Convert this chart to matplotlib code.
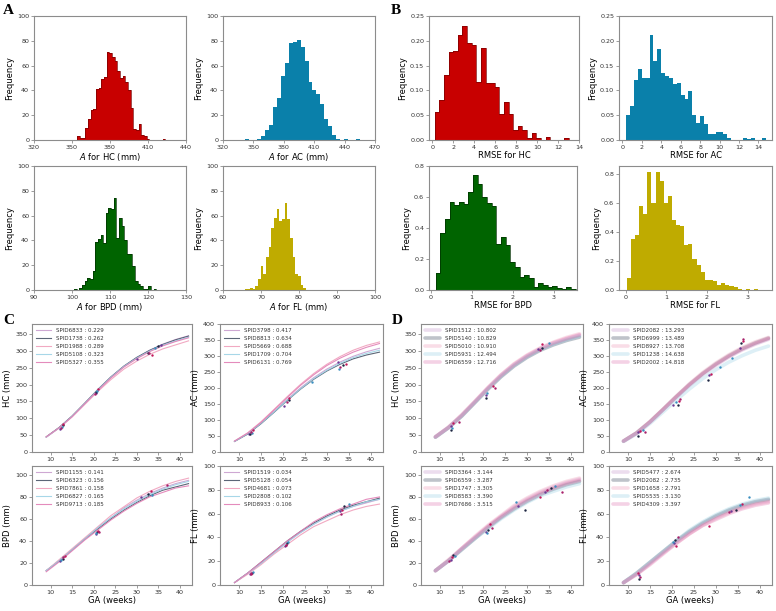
import numpy as np
import matplotlib
matplotlib.use("Agg")
import matplotlib.pyplot as plt

plt.rcParams['font.family'] = ['DejaVu Sans']

W, H = 776, 611

# ---------------- Panel A: histograms of parameter A (counts) ----------------
A_hc_start, A_hc_width = 354.3, 2.1
A_hc_counts = [3, 2, 2, 10, 17, 24, 25, 41, 42, 49, 51, 71, 70, 67, 64, 56, 50, 52, 47, 40,
               26, 9, 8, 13, 4, 3, 1, 0, 0, 0, 0, 0, 1]
A_ac_start, A_ac_width = 341.5, 3.93
A_ac_counts = [1, 0, 0, 1, 3, 8, 12, 27, 34, 52, 62, 78, 79, 81, 75, 64, 47, 40, 37, 29,
               17, 11, 4, 1, 0, 1, 0, 0, 1]
A_bpd_start, A_bpd_width = 100.5, 0.70
A_bpd_counts = [1, 0, 2, 4, 7, 10, 9, 15, 39, 41, 44, 38, 62, 66, 65, 74, 42, 58, 52, 40,
                29, 29, 19, 7, 5, 3, 1, 1, 3, 0, 1]
A_fl_start, A_fl_width = 65.7, 0.70
A_fl_counts = [1, 1, 2, 1, 3, 9, 19, 13, 27, 35, 50, 58, 65, 56, 57, 70, 57, 42, 27, 13,
               11, 4, 2]

# ---------------- Panel B: histograms of RMSE (density) ----------------
B_hc_start, B_hc_width = 0.25, 0.44
B_hc_dens = [0.056, 0.080, 0.131, 0.177, 0.180, 0.211, 0.230, 0.195, 0.192, 0.117, 0.186,
             0.115, 0.115, 0.106, 0.052, 0.077, 0.052, 0.020, 0.028, 0.020, 0.005, 0.014,
             0.005, 0.0, 0.007, 0.0, 0.0, 0.0, 0.005]
B_ac_start, B_ac_width = 0.4, 0.4
B_ac_dens = [0.050, 0.068, 0.120, 0.143, 0.125, 0.125, 0.212, 0.160, 0.183, 0.135, 0.130,
             0.125, 0.113, 0.115, 0.090, 0.082, 0.098, 0.050, 0.034, 0.048, 0.033, 0.013,
             0.013, 0.016, 0.016, 0.013, 0.005, 0.0, 0.0, 0.0, 0.004, 0.003, 0.004, 0.0,
             0.0, 0.005]
B_bpd_start, B_bpd_width = 0.12, 0.114
B_bpd_dens = [0.107, 0.365, 0.455, 0.570, 0.548, 0.570, 0.558, 0.630, 0.745, 0.687, 0.600,
              0.562, 0.540, 0.300, 0.340, 0.290, 0.180, 0.150, 0.085, 0.100, 0.075, 0.021,
              0.047, 0.032, 0.017, 0.028, 0.011, 0.006, 0.019, 0.008]
B_fl_start, B_fl_width = 0.03, 0.101
B_fl_dens = [0.085, 0.354, 0.377, 0.576, 0.520, 0.810, 0.600, 0.810, 0.750, 0.600, 0.647,
             0.480, 0.445, 0.440, 0.310, 0.313, 0.213, 0.171, 0.126, 0.069, 0.069, 0.062,
             0.034, 0.050, 0.034, 0.030, 0.018, 0.005, 0.0, 0.004, 0.0, 0.005]

# ---------------- Panels C & D: growth curves ----------------
GA_grid = [9, 12, 15, 18, 21, 24, 27, 30, 33, 36, 39, 42]

C_hc_ids = ['SPID6833 : 0.229', 'SPID1738 : 0.262', 'SPID1988 : 0.289', 'SPID5108 : 0.323', 'SPID5327 : 0.355']
C_hc_curves = [[44, 72, 106, 145, 185, 222, 254, 280, 302, 320, 334, 345],
               [45, 73, 107, 146, 186, 223, 255, 281, 302, 319, 333, 344],
               [44, 71, 104, 142, 180, 215, 246, 270, 290, 306, 318, 330],
               [44, 72, 106, 145, 185, 222, 254, 279, 300, 317, 330, 341],
               [45, 72, 105, 144, 183, 220, 252, 277, 298, 315, 328, 339]]
C_hc_obs_ga = [[12.3, 20.5, 30.0, 35.5], [12.8, 20.6, 32.5, 35.0], [13.0, 21.0, 33.5],
               [12.6, 20.8, 34.2], [12.5, 20.4, 32.8]]
C_hc_obs = [[67, 175, 276, 318], [79, 178, 295, 315], [83, 186, 289], [75, 180, 309], [72, 173, 294]]

C_ac_ids = ['SPID3798 : 0.417', 'SPID8813 : 0.634', 'SPID5669 : 0.688', 'SPID1709 : 0.704', 'SPID6131 : 0.769']
C_ac_curves = [[33, 57, 89, 126, 164, 200, 232, 259, 281, 299, 313, 324],
               [33, 56, 88, 124, 161, 196, 227, 253, 274, 291, 303, 312],
               [34, 60, 94, 133, 173, 211, 245, 274, 298, 318, 333, 344],
               [33, 57, 89, 125, 162, 197, 229, 255, 277, 295, 308, 318],
               [34, 59, 92, 131, 170, 208, 241, 270, 293, 312, 327, 339]]
C_ac_obs_ga = [[12.2, 20.2, 32.5], [12.5, 21.5, 33.7], [13.2, 21.3, 34.3], [12.9, 26.7, 32.8], [12.7, 21.0, 33.0]]
C_ac_obs = [[55, 145, 280], [57, 162, 271], [68, 168, 276], [60, 218, 260], [62, 155, 265]]

C_bpd_ids = ['SPID1155 : 0.141', 'SPID6323 : 0.156', 'SPID7861 : 0.158', 'SPID6827 : 0.165', 'SPID9713 : 0.185']
C_bpd_curves = [[13, 22, 32, 42, 52, 61, 70, 77, 83, 88, 92, 95],
                [13, 22, 32, 42, 51, 60, 68, 75, 81, 86, 89, 92],
                [13, 23, 33, 43, 53, 63, 71, 79, 85, 90, 94, 97],
                [13, 22, 32, 42, 52, 61, 69, 76, 82, 87, 91, 94],
                [12, 21, 31, 41, 50, 59, 67, 74, 80, 84, 88, 90]]
C_bpd_obs_ga = [[12.2, 20.5, 31.0], [12.8, 20.8, 32.5], [13.3, 21.0, 33.2], [12.5, 20.6, 33.5], [13.0, 21.2, 37.0]]
C_bpd_obs = [[22, 46, 80], [24, 48, 83], [26, 49, 85], [23, 47, 82], [25, 48, 91]]

C_fl_ids = ['SPID1519 : 0.034', 'SPID5128 : 0.054', 'SPID4681 : 0.073', 'SPID2808 : 0.102', 'SPID8933 : 0.106']
C_fl_curves = [[2, 10, 18, 27, 36, 44, 51, 57, 62, 66, 69, 72],
               [2, 10, 19, 28, 37, 45, 52, 58, 63, 67, 70, 73],
               [2, 9, 17, 26, 34, 42, 49, 54, 59, 63, 66, 68],
               [2, 10, 18, 27, 36, 44, 51, 57, 62, 66, 70, 72],
               [2, 10, 19, 28, 37, 45, 53, 59, 64, 68, 72, 74]]
C_fl_obs_ga = [[12.5, 20.5, 33.0], [13.0, 21.0, 34.0], [12.8, 20.8, 33.5], [13.2, 21.2, 35.0], [12.7, 20.7, 33.3]]
C_fl_obs = [[9, 33, 62], [10, 35, 66], [9, 34, 63], [11, 36, 68], [10, 34, 60]]

D_hc_ids = ['SPID1512 : 10.802', 'SPID5140 : 10.829', 'SPID5010 : 10.910', 'SPID5931 : 12.494', 'SPID6559 : 12.716']
D_hc_curves = [[45, 73, 108, 148, 189, 226, 258, 284, 305, 322, 335, 346],
               [44, 72, 106, 146, 186, 223, 255, 281, 302, 318, 331, 341],
               [45, 74, 110, 150, 191, 229, 262, 288, 309, 326, 340, 351],
               [44, 72, 107, 147, 187, 225, 257, 283, 304, 320, 333, 344],
               [45, 73, 109, 149, 190, 228, 260, 286, 307, 324, 337, 348]]
D_hc_obs_ga = [[12.5, 20.7, 32.5], [12.6, 20.5, 33.5], [13.0, 22.3, 33.3], [12.7, 20.9, 35.0], [14.3, 22.6, 33.0]]
D_hc_obs = [[78, 170, 305], [65, 160, 310], [85, 195, 320], [72, 175, 325], [88, 190, 302]]

D_ac_ids = ['SPID2082 : 13.293', 'SPID6999 : 13.489', 'SPID8927 : 13.708', 'SPID1238 : 14.638', 'SPID2002 : 14.818']
D_ac_curves = [[34, 59, 93, 132, 171, 208, 242, 271, 297, 319, 337, 352],
               [34, 60, 94, 133, 173, 211, 245, 275, 301, 323, 341, 356],
               [34, 60, 95, 134, 174, 213, 248, 278, 304, 326, 344, 358],
               [33, 57, 89, 125, 162, 197, 229, 257, 281, 301, 318, 331],
               [34, 59, 93, 132, 172, 210, 244, 273, 299, 321, 339, 354]]
D_ac_obs_ga = [[12.3, 20.2, 28.4, 35.5], [12.4, 21.3, 28.3, 35.7], [12.7, 21.6, 28.9, 36.1],
               [13.5, 21.0, 31.0, 33.8], [13.8, 21.8, 36.3]]
D_ac_obs = [[62, 148, 240, 325], [50, 148, 225, 340], [65, 160, 245, 348], [68, 155, 267, 295], [62, 165, 352]]

D_bpd_ids = ['SPID3364 : 3.144', 'SPID6559 : 3.287', 'SPID1747 : 3.305', 'SPID8583 : 3.390', 'SPID7686 : 3.515']
D_bpd_curves = [[13, 22, 33, 43, 53, 62, 71, 78, 84, 89, 93, 96],
                [13, 22, 32, 42, 52, 61, 69, 76, 82, 87, 91, 94],
                [13, 23, 33, 44, 54, 63, 72, 79, 85, 90, 94, 97],
                [13, 22, 32, 42, 51, 60, 68, 75, 81, 85, 89, 92],
                [13, 22, 33, 43, 53, 62, 70, 77, 83, 88, 92, 95]]
D_bpd_obs_ga = [[12.5, 20.5, 28.0, 34.0], [13.0, 21.0, 29.5, 35.5], [12.8, 21.5, 33.0],
                [13.5, 20.8, 27.5, 36.5], [12.2, 22.0, 34.5, 38.0]]
D_bpd_obs = [[23, 48, 72, 84], [27, 50, 68, 88], [25, 55, 80], [26, 47, 75, 90], [22, 52, 86, 84]]

D_fl_ids = ['SPID5477 : 2.674', 'SPID2082 : 2.735', 'SPID1658 : 2.791', 'SPID5535 : 3.130', 'SPID4309 : 3.397']
D_fl_curves = [[2, 9, 18, 27, 36, 44, 51, 57, 62, 66, 69, 71],
               [2, 10, 19, 28, 37, 45, 52, 58, 63, 67, 70, 72],
               [2, 9, 18, 27, 35, 43, 50, 56, 61, 65, 68, 70],
               [2, 10, 19, 28, 37, 46, 53, 59, 64, 68, 71, 73],
               [2, 9, 17, 26, 35, 43, 50, 55, 60, 64, 67, 69]]
D_fl_obs_ga = [[12.5, 20.5, 33.5], [12.6, 20.8, 34.5], [12.4, 21.0, 28.5, 36.0], [20.3, 35.5, 37.5], [12.8, 21.5, 33.0]]
D_fl_obs = [[8, 35, 62], [5, 38, 63], [10, 33, 50, 68], [36, 67, 74], [7, 40, 61]]

# ---------------- styling ----------------
RED, BLUE, GREEN, OLIVE = '#c80000', '#0a80aa', '#006400', '#bfab00'
line_cols = ['#c99fcf', '#4a5568', '#f0a0bc', '#9ed3e6', '#e27fb5']
pt_cols = ['#6e3a96', '#1c2541', '#c2185b', '#3a8fc0', '#a8206a']
SPINE = '#8c8c8c'
TICKFS = 4.6
LABFS = 6.0

fig = plt.figure(figsize=(W / 100, H / 100), dpi=100)


def ax_px(l, t, r, b):
    return fig.add_axes([l / W, 1 - b / H, (r - l) / W, (b - t) / H])


def style(ax):
    for s in ax.spines.values():
        s.set_color(SPINE)
        s.set_linewidth(0.8)
    ax.tick_params(labelsize=TICKFS, colors='#333333', length=2, width=0.6, pad=1.5)
    ax.tick_params(axis='both', color=SPINE)


def hist(ax, start, width, vals, color, edge=None):
    edges = start + width * np.arange(len(vals) + 1)
    ax.stairs(vals, edges, fill=True, color=color)
    if edge is not None:
        ax.stairs(vals, edges, fill=False, color=edge, lw=0.5)


# Panel A
axA = [ax_px(34, 16, 186, 140), ax_px(223, 16, 375, 140),
       ax_px(34, 166, 186, 290), ax_px(223, 166, 375, 290)]
specA = [(A_hc_start, A_hc_width, A_hc_counts, RED, '#7a0000', (320, 440), [320, 350, 380, 410, 440], '$A$ for HC (mm)'),
         (A_ac_start, A_ac_width, A_ac_counts, BLUE, None, (320, 470), [320, 350, 380, 410, 440, 470], '$A$ for AC (mm)'),
         (A_bpd_start, A_bpd_width, A_bpd_counts, GREEN, '#003000', (90, 130), [90, 100, 110, 120, 130], '$A$ for BPD (mm)'),
         (A_fl_start, A_fl_width, A_fl_counts, OLIVE, None, (60, 100), [60, 70, 80, 90, 100], '$A$ for FL (mm)')]
for ax, (st, w, v, c, e, xl, xt, lab) in zip(axA, specA):
    hist(ax, st, w, v, c, e)
    ax.set_xlim(*xl)
    ax.set_xticks(xt)
    ax.set_ylim(0, 100)
    ax.set_yticks([0, 20, 40, 60, 80, 100])
    ax.set_xlabel(lab, fontsize=LABFS, labelpad=1)
    ax.set_ylabel('Frequency', fontsize=LABFS, labelpad=2)
    style(ax)

# Panel B
axB = [ax_px(429, 16, 579, 140), ax_px(619, 16, 772, 140),
       ax_px(429, 166, 577, 290), ax_px(619, 166, 772, 290)]
specB = [(B_hc_start, B_hc_width, B_hc_dens, RED, '#7a0000', (-0.3, 14.0), list(range(0, 15, 2)), (0, 0.25), 'RMSE for HC'),
         (B_ac_start, B_ac_width, B_ac_dens, BLUE, None, (-0.35, 15.4), list(range(0, 15, 2)), (0, 0.25), 'RMSE for AC'),
         (B_bpd_start, B_bpd_width, B_bpd_dens, GREEN, '#003000', (-0.04, 3.57), [0, 1, 2, 3], (0, 0.8), 'RMSE for BPD'),
         (B_fl_start, B_fl_width, B_fl_dens, OLIVE, None, (-0.16, 3.6), [0, 1, 2, 3], (0, 0.853), 'RMSE for FL')]
for i, (ax, (st, w, v, c, e, xl, xt, yl, lab)) in enumerate(zip(axB, specB)):
    hist(ax, st, w, v, c, e)
    ax.set_xlim(*xl)
    ax.set_xticks(xt)
    ax.set_ylim(*yl)
    if i < 2:
        ax.set_yticks([0, 0.05, 0.10, 0.15, 0.20, 0.25])
        ax.yaxis.set_major_formatter(matplotlib.ticker.FormatStrFormatter('%.2f'))
    else:
        ax.set_yticks([0, 0.2, 0.4, 0.6, 0.8])
        ax.yaxis.set_major_formatter(matplotlib.ticker.FormatStrFormatter('%.1f'))
    ax.set_xlabel(lab, fontsize=LABFS, labelpad=1)
    ax.set_ylabel('Frequency', fontsize=LABFS, labelpad=2)
    style(ax)


# Panels C & D
def growth(ax, ids, curves, obs_ga, obs, ylab, ylim, yticks, thick, xlabel):
    for k in range(len(ids)):
        if thick:
            ax.plot(GA_grid, curves[k], color=line_cols[k], lw=2.6, alpha=0.35, label=ids[k],
                    solid_capstyle='round')
        else:
            ax.plot(GA_grid, curves[k], color=line_cols[k], lw=0.8, alpha=0.9, label=ids[k])
    for k in range(len(ids)):
        ax.scatter(obs_ga[k], obs[k], s=3, color=pt_cols[k], zorder=3, linewidths=0)
    ax.set_xlim(5.7, 42.8)
    ax.set_xticks([10, 15, 20, 25, 30, 35, 40])
    ax.set_ylim(*ylim)
    ax.set_yticks(yticks)
    ax.set_ylabel(ylab, fontsize=LABFS, labelpad=2)
    if xlabel:
        ax.set_xlabel('GA (weeks)', fontsize=LABFS, labelpad=1)
    leg = ax.legend(loc='upper left', fontsize=4.0, frameon=False, handlelength=2.8,
                    labelspacing=0.55, borderaxespad=0.3, handletextpad=0.8)
    for t in leg.get_texts():
        t.set_color('#333333')
    style(ax)


hc_ylim, hc_ticks = (0, 380), [0, 50, 100, 150, 200, 250, 300, 350]
ac_ylim, ac_ticks = (0, 400), [0, 50, 100, 150, 200, 250, 300, 350, 400]
bpd_ylim, bpd_ticks = (0, 108), [0, 20, 40, 60, 80, 100]
fl_ylim, fl_ticks = (0, 100), [0, 20, 40, 60, 80, 100]

growth(ax_px(32, 324, 192, 452), C_hc_ids, C_hc_curves, C_hc_obs_ga, C_hc_obs, 'HC (mm)', hc_ylim, hc_ticks, False, False)
growth(ax_px(220, 324, 383, 452), C_ac_ids, C_ac_curves, C_ac_obs_ga, C_ac_obs, 'AC (mm)', ac_ylim, ac_ticks, False, False)
growth(ax_px(32, 466, 192, 585), C_bpd_ids, C_bpd_curves, C_bpd_obs_ga, C_bpd_obs, 'BPD (mm)', bpd_ylim, bpd_ticks, False, True)
growth(ax_px(220, 466, 383, 585), C_fl_ids, C_fl_curves, C_fl_obs_ga, C_fl_obs, 'FL (mm)', fl_ylim, fl_ticks, False, True)

growth(ax_px(421, 324, 583, 452), D_hc_ids, D_hc_curves, D_hc_obs_ga, D_hc_obs, 'HC (mm)', hc_ylim, hc_ticks, True, False)
growth(ax_px(609, 324, 772, 452), D_ac_ids, D_ac_curves, D_ac_obs_ga, D_ac_obs, 'AC (mm)', ac_ylim, ac_ticks, True, False)
growth(ax_px(421, 466, 583, 585), D_bpd_ids, D_bpd_curves, D_bpd_obs_ga, D_bpd_obs, 'BPD (mm)', bpd_ylim, bpd_ticks, True, True)
growth(ax_px(609, 466, 772, 585), D_fl_ids, D_fl_curves, D_fl_obs_ga, D_fl_obs, 'FL (mm)', fl_ylim, fl_ticks, True, True)

# Panel letters
for letter, x, y in [('A', 3, 4), ('B', 391, 4), ('C', 3, 314), ('D', 392, 314)]:
    fig.text(x / W, 1 - y / H, letter, fontsize=11, fontweight='bold',
             family=['Liberation Serif', 'DejaVu Serif'], va='top', ha='left')

fig.savefig('out.png', dpi=100)
